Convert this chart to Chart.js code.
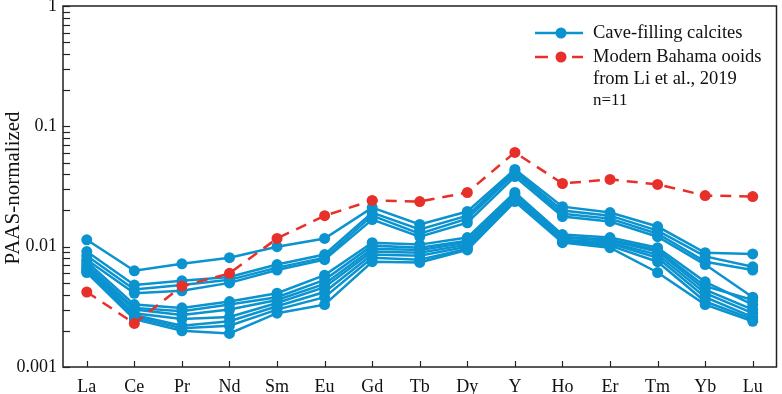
<!DOCTYPE html>
<html>
<head>
<meta charset="utf-8">
<script src="https://cdn.jsdelivr.net/npm/chart.js@4.4.1/dist/chart.umd.min.js"></script>
<style>
  html, body { margin: 0; padding: 0; background: #fff; }
  #wrap { width: 782px; height: 394px; }
</style>
</head>
<body>
<div id="wrap"><canvas id="reeChart" width="782" height="394"></canvas></div>
<script>
// Elementos (eje x)
const elementos = ['La', 'Ce', 'Pr', 'Nd', 'Sm', 'Eu', 'Gd', 'Tb', 'Dy', 'Y', 'Ho', 'Er', 'Tm', 'Yb', 'Lu'];

// Valores normalizados a PAAS
const ooidesBahamas = [0.0042, 0.0023, 0.0047, 0.0060, 0.0117, 0.0181, 0.0242, 0.0237, 0.0282, 0.0607, 0.0335, 0.0362, 0.0329, 0.0266, 0.0261];

const calcita1  = [0.0114, 0.0063, 0.0072, 0.0081, 0.0100, 0.0117, 0.0211, 0.0153, 0.0196, 0.0438, 0.0215, 0.0192, 0.0147, 0.0089, 0.0087];
const calcita2  = [0.0091, 0.0048, 0.0052, 0.0056, 0.0071, 0.0086, 0.0192, 0.0139, 0.0181, 0.0422, 0.0200, 0.0181, 0.0136, 0.0083, 0.0068];
const calcita3  = [0.0084, 0.0044, 0.0048, 0.0053, 0.0067, 0.0081, 0.0181, 0.0128, 0.0171, 0.0406, 0.0188, 0.0171, 0.0128, 0.0075, 0.0064];
const calcita4  = [0.0078, 0.0041, 0.0043, 0.0050, 0.0064, 0.0078, 0.0168, 0.0121, 0.0158, 0.0383, 0.0178, 0.0162, 0.0121, 0.0071, 0.0038];
const calcita5  = [0.0075, 0.0033, 0.0031, 0.0035, 0.0041, 0.0058, 0.0108, 0.0104, 0.0119, 0.0282, 0.0126, 0.0119, 0.0098, 0.0051, 0.0033];
const calcita6  = [0.0071, 0.0031, 0.0029, 0.0033, 0.0038, 0.0053, 0.0102, 0.0098, 0.0112, 0.0271, 0.0121, 0.0114, 0.0094, 0.0047, 0.0036];
const calcita7  = [0.0068, 0.0030, 0.0027, 0.0030, 0.0036, 0.0049, 0.0096, 0.0094, 0.0108, 0.0261, 0.0119, 0.0112, 0.0091, 0.0044, 0.0030];
const calcita8  = [0.0066, 0.0028, 0.0025, 0.0026, 0.0034, 0.0046, 0.0091, 0.0089, 0.0104, 0.0251, 0.0114, 0.0108, 0.0086, 0.0041, 0.0028];
const calcita9  = [0.0064, 0.0027, 0.0022, 0.0024, 0.0032, 0.0042, 0.0086, 0.0084, 0.0100, 0.0246, 0.0112, 0.0106, 0.0081, 0.0038, 0.0026];
const calcita10 = [0.0062, 0.0026, 0.0021, 0.0022, 0.0030, 0.0038, 0.0081, 0.0078, 0.0096, 0.0242, 0.0110, 0.0102, 0.0075, 0.0035, 0.0025];
const calcita11 = [0.0061, 0.0025, 0.0020, 0.0019, 0.0028, 0.0033, 0.0075, 0.0074, 0.0094, 0.0237, 0.0108, 0.0098, 0.0061, 0.0033, 0.0024];

const calcitas = [calcita1, calcita2, calcita3, calcita4, calcita5, calcita6, calcita7, calcita8, calcita9, calcita10, calcita11];

// Etiquetas del eje y
const ticksMayores = [0.001, 0.01, 0.1, 1];
const etiquetasY = ['0.001', '0.01', '0.1', '1'];

const AZUL = '#0b93d0';
const ROJO = '#e8302a';
const FUENTE = '"Liberation Serif", "DejaVu Serif", serif';

const datasets = calcitas.map(valores => ({
    data: valores,
    borderColor: AZUL,
    backgroundColor: AZUL,
    borderWidth: 2.5,
    pointRadius: 5.5,
    pointBorderWidth: 0,
    pointBackgroundColor: AZUL,
    tension: 0,
    order: 2
}));

datasets.push({
    data: ooidesBahamas,
    borderColor: ROJO,
    backgroundColor: ROJO,
    borderWidth: 2.5,
    borderDash: [11, 8],
    pointRadius: 5.5,
    pointBorderWidth: 0,
    pointBackgroundColor: ROJO,
    tension: 0,
    order: 1
});

// Marco, marcas de ticks, titulo del eje y leyenda
const decoracion = {
    id: 'decoracion',
    afterDraw(chart) {
        const ctx = chart.ctx;
        const area = chart.chartArea;
        const sx = chart.scales.x;
        const sy = chart.scales.y;
        ctx.save();

        // marco
        ctx.strokeStyle = '#222';
        ctx.lineWidth = 1.5;
        ctx.strokeRect(area.left, area.top, area.right - area.left, area.bottom - area.top);

        // marcas del eje y (hacia dentro)
        ctx.lineWidth = 1.2;
        sy.ticks.forEach(t => {
            const py = Math.round(sy.getPixelForValue(t.value)) + 0.5;
            ctx.beginPath();
            ctx.moveTo(area.left, py);
            ctx.lineTo(area.left + 7, py);
            ctx.stroke();
        });

        // marcas del eje x
        elementos.forEach((e, i) => {
            const px = Math.round(sx.getPixelForValue(i)) + 0.5;
            ctx.beginPath();
            ctx.moveTo(px, area.bottom);
            ctx.lineTo(px, area.bottom - 6);
            ctx.stroke();
        });

        // titulo del eje y
        ctx.fillStyle = '#111';
        ctx.font = '21px ' + FUENTE;
        ctx.textAlign = 'center';
        ctx.textBaseline = 'middle';
        ctx.translate(13, 188);
        ctx.rotate(-Math.PI / 2);
        ctx.fillText('PAAS-normalized', 0, 0);
        ctx.restore();

        // leyenda
        ctx.save();
        const lx0 = 535, lx1 = 583, mx = 561, tx = 593;
        ctx.lineWidth = 2.5;
        ctx.strokeStyle = AZUL;
        ctx.fillStyle = AZUL;
        ctx.beginPath();
        ctx.moveTo(lx0, 33);
        ctx.lineTo(lx1, 33);
        ctx.stroke();
        ctx.beginPath();
        ctx.arc(mx, 33, 5.5, 0, Math.PI * 2);
        ctx.fill();

        ctx.strokeStyle = ROJO;
        ctx.fillStyle = ROJO;
        ctx.beginPath();
        ctx.moveTo(lx0, 57);
        ctx.lineTo(548, 57);
        ctx.moveTo(572, 57);
        ctx.lineTo(lx1, 57);
        ctx.stroke();
        ctx.beginPath();
        ctx.arc(mx, 57, 5.5, 0, Math.PI * 2);
        ctx.fill();

        ctx.fillStyle = '#111';
        ctx.font = '18.5px ' + FUENTE;
        ctx.textAlign = 'left';
        ctx.textBaseline = 'middle';
        ctx.fillText('Cave-filling calcites', tx, 33);
        ctx.fillText('Modern Bahama ooids', tx, 57);
        ctx.fillText('from Li et al., 2019', tx, 79);
        ctx.font = '17px ' + FUENTE;
        ctx.fillText('n=11', tx, 101);
        ctx.restore();
    }
};

new Chart(document.getElementById('reeChart').getContext('2d'), {
    type: 'line',
    data: {
        labels: elementos,
        datasets: datasets
    },
    options: {
        responsive: false,
        animation: false,
        layout: { padding: { top: 6, right: 1, left: 0, bottom: 0 } },
        plugins: {
            legend: { display: false },
            tooltip: { enabled: false }
        },
        scales: {
            x: {
                type: 'category',
                offset: true,
                grid: { display: false },
                border: { display: false },
                ticks: {
                    color: '#111',
                    font: { family: FUENTE, size: 18 },
                    padding: 1,
                    maxRotation: 0
                },
                afterFit(scale) {
                    scale.height = 27;
                    scale.paddingLeft = 0;
                    scale.paddingRight = 0;
                }
            },
            y: {
                type: 'logarithmic',
                min: 0.001,
                max: 1,
                grid: { display: false, drawTicks: false },
                border: { display: false },
                afterBuildTicks(scale) {
                    const ticks = [];
                    for (let e = -3; e < 0; e++) {
                        for (let m = 1; m < 10; m++) {
                            ticks.push({ value: m * Math.pow(10, e) });
                        }
                    }
                    ticks.push({ value: 1 });
                    scale.ticks = ticks;
                },
                ticks: {
                    color: '#111',
                    font: { family: FUENTE, size: 18 },
                    padding: 6,
                    autoSkip: false,
                    callback(value) {
                        const i = ticksMayores.findIndex(t => Math.abs(t - value) / t < 1e-6);
                        return i >= 0 ? etiquetasY[i] : '';
                    }
                },
                afterFit(scale) {
                    scale.width = 63;
                    scale.paddingTop = 0;
                    scale.paddingBottom = 0;
                }
            }
        }
    },
    plugins: [decoracion]
});
</script>
</body>
</html>
